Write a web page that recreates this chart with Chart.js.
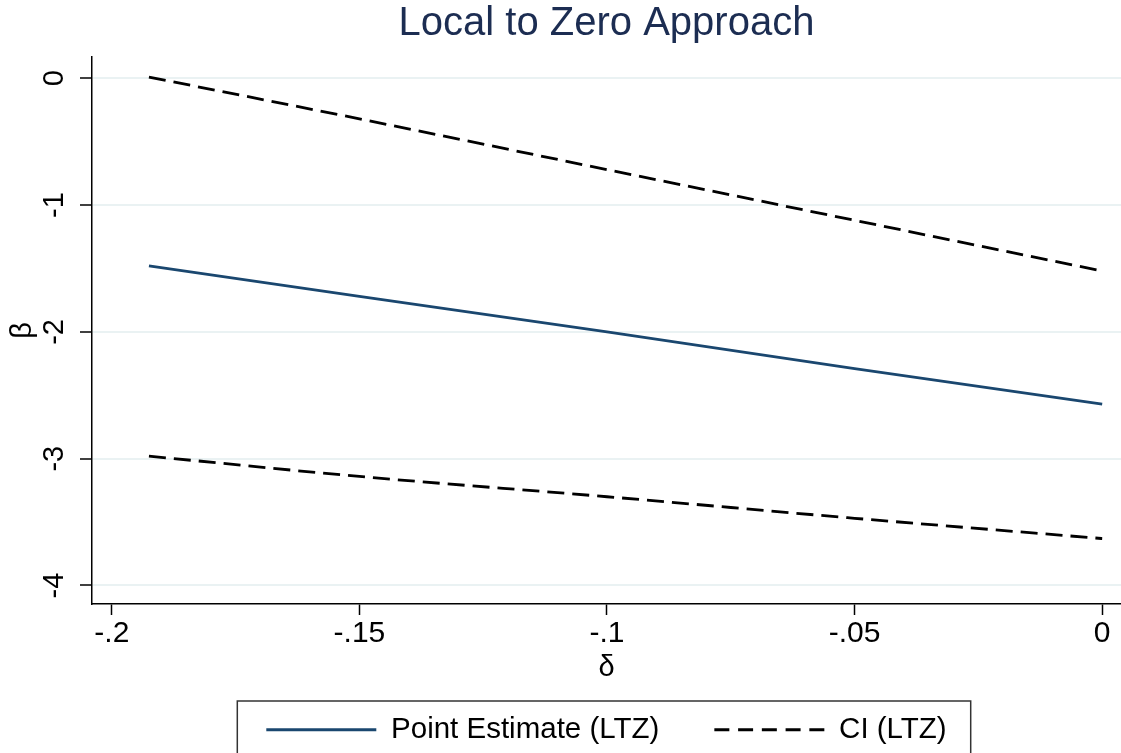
<!DOCTYPE html>
<html><head><meta charset="utf-8">
<script src="https://cdn.jsdelivr.net/npm/chart.js@4.4.1/dist/chart.umd.min.js"></script>
<style>html,body{margin:0;padding:0;background:#fff;} #wrap{width:1121px;height:753px;}</style>
</head><body><div id="wrap"><canvas id="c" width="1121" height="753"></canvas></div>
<script>
const deltaValues = [-0.1925, -0.15, -0.10, -0.05, 0.0];
const pointEstimate = [-1.48, -1.72, -2.00, -2.29, -2.57];
const ciUpper = [0.01, -0.32, -0.72, -1.12, -1.52];
const ciLower = [-2.98, -3.14, -3.30, -3.47, -3.63];
const xTickValues = [-0.2, -0.15, -0.1, -0.05, 0];
const xTickLabels = ['-.2', '-.15', '-.1', '-.05', '0'];
const yTickValues = [0, -1, -2, -3, -4];
const yTickLabels = ['0', '-1', '-2', '-3', '-4'];
const seriesNames = ['Point Estimate (LTZ)', 'CI (LTZ)'];
const chartTitle = 'Local to Zero Approach';
const xTitle = 'δ';
const yTitle = 'β';

const toXY = (ys) => deltaValues.map((d, i) => ({x: d, y: ys[i]}));
const FONT = "'Liberation Sans', Arial, Helvetica, sans-serif";

const legendBoxPlugin = {
  id: 'legendBox',
  beforeLayout(chart) {
    const lg = chart.legend;
    if (lg && !lg._patched) {
      const f = lg.fit;
      lg.fit = function() { f.call(this); this.height = 71; };
      lg._patched = true;
    }
  },
  afterLayout(chart) {
    const lg = chart.legend;
    if (lg) { lg.top = 660; lg.bottom = 753; lg.height = lg.bottom - lg.top; }
  },
  afterDraw(chart) {
    const lg = chart.legend;
    if (!lg || !lg.legendHitBoxes || !lg.legendHitBoxes.length) return;
    const hb = lg.legendHitBoxes;
    const first = hb[0], last = hb[hb.length - 1];
    const ctx = chart.ctx;
    ctx.save();
    ctx.strokeStyle = '#333';
    ctx.lineWidth = 1.5;
    const l = first.left - 29, r = last.left + last.width + 24, t = first.top - 14;
    ctx.strokeRect(l, t, r - l, 80);
    ctx.restore();
  }
};

new Chart(document.getElementById('c'), {
  type: 'line',
  data: {
    datasets: [
      {label: seriesNames[0], data: toXY(pointEstimate), borderColor: '#1a476f', borderWidth: 2.8, pointRadius: 0, tension: 0},
      {label: seriesNames[1], data: toXY(ciUpper), borderColor: '#000', borderWidth: 2.8, borderDash: [17, 8], pointRadius: 0, cubicInterpolationMode: 'monotone'},
      {label: seriesNames[1] + ' lower', data: toXY(ciLower), borderColor: '#000', borderWidth: 2.8, borderDash: [17, 8], pointRadius: 0, cubicInterpolationMode: 'monotone'}
    ]
  },
  options: {
    responsive: false,
    animation: false,
    devicePixelRatio: 1,
    layout: {padding: 0},
    plugins: {
      tooltip: {enabled: false},
      title: {
        display: true, text: chartTitle, fullSize: false,
        color: '#1c2d52', font: {family: FONT, size: 40, weight: 'normal', lineHeight: 1.2},
        padding: {top: 0, bottom: 9}
      },
      legend: {
        display: true, position: 'bottom', fullSize: false,
        labels: {
          color: '#000', font: {family: FONT, size: 29.5}, padding: 55,
          usePointStyle: true, pointStyle: 'line', pointStyleWidth: 110, boxWidth: 110,
          filter: (item) => item.datasetIndex < 2,
          generateLabels(chart) {
            const items = Chart.defaults.plugins.legend.labels.generateLabels(chart);
            items.forEach(it => { it.pointStyle = 'line'; if (it.datasetIndex === 1) it.lineDash = [15, 8.75]; });
            return items;
          }
        }
      }
    },
    scales: {
      x: {
        type: 'linear', min: -0.204, max: 0.0038,
        afterBuildTicks: (s) => { s.ticks = xTickValues.map(v => ({value: v})); },
        afterFit: (s) => { s.height = 78; },
        ticks: {
          color: '#000', font: {family: FONT, size: 30}, padding: 1, autoSkip: false, maxRotation: 0,
          callback: (v, i) => xTickLabels[i]
        },
        grid: {drawOnChartArea: false, drawTicks: true, tickLength: 11, tickColor: '#000', tickWidth: 1.5},
        border: {color: '#000', width: 1.5},
        title: {display: true, text: xTitle, color: '#000', font: {family: FONT, size: 29, lineHeight: 1.2}, padding: {top: 0, bottom: -3}}
      },
      y: {
        type: 'linear', min: -4.146, max: 0.168,
        afterBuildTicks: (s) => { s.ticks = yTickValues.map(v => ({value: v})); },
        afterFit: (s) => { s.width = 92; },
        ticks: {
          color: '#000', font: {family: FONT, size: 29}, padding: 12, autoSkip: false,
          minRotation: 90, maxRotation: 90, crossAlign: 'center',
          callback: (v, i) => yTickLabels[i]
        },
        grid: {color: '#eaf2f3', lineWidth: 2, drawTicks: true, tickLength: 12, tickColor: '#000', tickWidth: 1.5},
        border: {color: '#000', width: 1.5},
        title: {display: true, text: yTitle, color: '#000', font: {family: FONT, size: 29, lineHeight: 1.2}, padding: {top: 6, bottom: 0}}
      }
    }
  },
  plugins: [legendBoxPlugin]
});
</script>
</body></html>
